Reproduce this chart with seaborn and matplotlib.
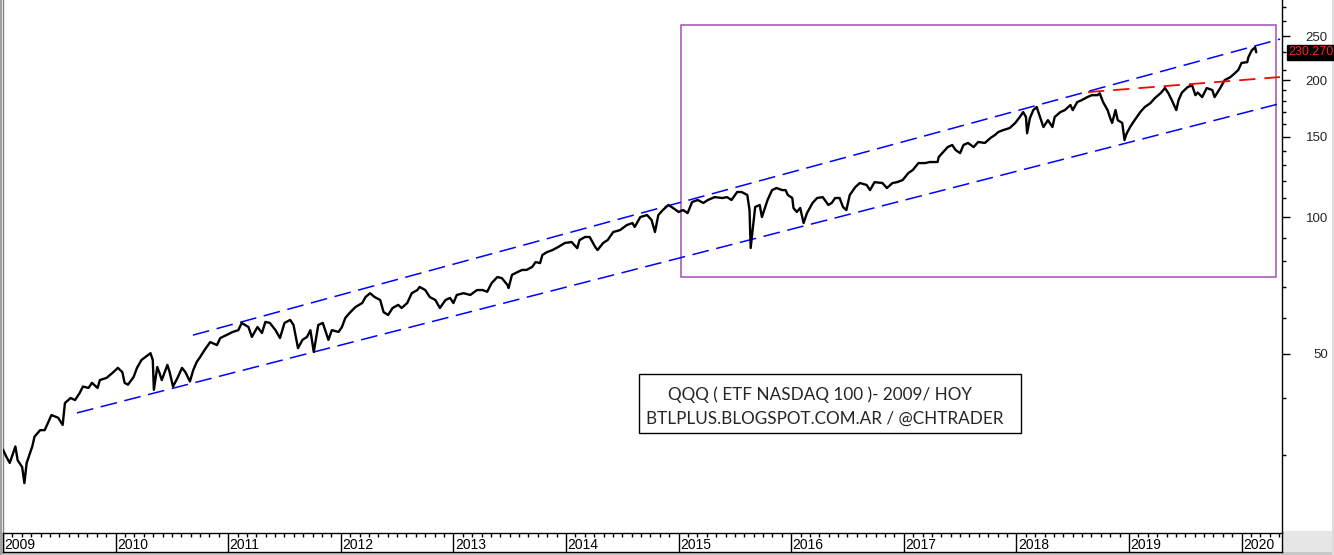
import matplotlib
matplotlib.use("Agg")
import matplotlib.pyplot as plt
import seaborn as sns
import numpy as np
import pandas as pd
from matplotlib.patches import Rectangle
from matplotlib.ticker import FixedLocator, NullFormatter, FixedFormatter

# ---------------- data ----------------
years = [
    2009.00, 2009.03, 2009.06, 2009.11, 2009.13, 2009.17, 2009.19, 2009.21, 2009.26, 2009.28,
    2009.33, 2009.37, 2009.40, 2009.43, 2009.49, 2009.53, 2009.55, 2009.60, 2009.64, 2009.68,
    2009.71, 2009.76, 2009.79, 2009.84, 2009.86, 2009.92, 2009.98,
    2010.02, 2010.06, 2010.08, 2010.11, 2010.16, 2010.19, 2010.23, 2010.31, 2010.33, 2010.34,
    2010.37, 2010.39, 2010.41, 2010.46, 2010.48, 2010.51, 2010.55, 2010.59, 2010.62, 2010.66,
    2010.69, 2010.72, 2010.75, 2010.79, 2010.84, 2010.90, 2010.93, 2010.99,
    2011.04, 2011.09, 2011.12, 2011.18, 2011.21, 2011.26, 2011.30, 2011.33, 2011.37, 2011.42,
    2011.46, 2011.50, 2011.55, 2011.58, 2011.62, 2011.66, 2011.70, 2011.73, 2011.76, 2011.80,
    2011.84, 2011.89, 2011.92, 2011.98,
    2012.01, 2012.04, 2012.08, 2012.13, 2012.19, 2012.22, 2012.26, 2012.30, 2012.35, 2012.38,
    2012.42, 2012.46, 2012.51, 2012.54, 2012.59, 2012.63, 2012.68, 2012.70, 2012.75, 2012.79,
    2012.84, 2012.88, 2012.93, 2012.97, 2013.00,
    2013.03, 2013.09, 2013.15, 2013.21, 2013.26, 2013.30, 2013.34, 2013.39, 2013.43, 2013.48,
    2013.49, 2013.52, 2013.57, 2013.61, 2013.65, 2013.70, 2013.73, 2013.77, 2013.79, 2013.83,
    2013.88, 2013.93, 2013.99,
    2014.05, 2014.10, 2014.12, 2014.17, 2014.21, 2014.26, 2014.28, 2014.33, 2014.37, 2014.42,
    2014.48, 2014.54, 2014.59, 2014.61, 2014.66, 2014.72, 2014.76, 2014.79, 2014.82, 2014.86,
    2014.91, 2014.95,
    2015.00, 2015.04, 2015.08, 2015.12, 2015.17, 2015.22, 2015.26, 2015.32, 2015.39, 2015.43,
    2015.47, 2015.52, 2015.56, 2015.61, 2015.63, 2015.64, 2015.68, 2015.72, 2015.74, 2015.79,
    2015.83, 2015.87, 2015.92, 2015.95, 2015.97,
    2016.01, 2016.02, 2016.05, 2016.08, 2016.11, 2016.14, 2016.19, 2016.23, 2016.28, 2016.33,
    2016.36, 2016.39, 2016.43, 2016.46, 2016.49, 2016.52, 2016.57, 2016.61, 2016.67, 2016.70,
    2016.74, 2016.81, 2016.85, 2016.90, 2016.94, 2016.99,
    2017.04, 2017.08, 2017.13, 2017.19, 2017.23, 2017.30, 2017.31, 2017.35, 2017.39, 2017.43,
    2017.46, 2017.50, 2017.53, 2017.57, 2017.62, 2017.66, 2017.72, 2017.77, 2017.81, 2017.84,
    2017.88, 2017.94, 2017.99,
    2018.03, 2018.06, 2018.085, 2018.095, 2018.12, 2018.15, 2018.18, 2018.21, 2018.24, 2018.28,
    2018.32, 2018.34, 2018.39, 2018.43, 2018.48, 2018.50, 2018.54, 2018.58, 2018.63, 2018.67,
    2018.72, 2018.74, 2018.77, 2018.81, 2018.83, 2018.85, 2018.88, 2018.90, 2018.94, 2018.96,
    2018.98,
    2019.01, 2019.05, 2019.10, 2019.14, 2019.19, 2019.23, 2019.28, 2019.32, 2019.35, 2019.38,
    2019.42, 2019.44, 2019.47, 2019.52, 2019.56, 2019.59, 2019.61, 2019.65, 2019.69, 2019.74,
    2019.76, 2019.81, 2019.85, 2019.90, 2019.94, 2019.97,
    2020.00, 2020.05, 2020.06, 2020.09, 2020.12, 2020.13,
]
prices = [
    30.8, 29.7, 28.8, 31.3, 29.2, 28.2, 26.0, 28.8, 31.3, 32.9,
    34.0, 34.0, 35.3, 36.7, 36.2, 34.9, 39.0, 40.0, 39.6, 41.0,
    42.4, 42.1, 43.2, 42.1, 43.8, 44.3, 45.6,
    46.6, 45.6, 43.2, 42.8, 44.5, 46.6, 48.5, 50.2, 48.5, 41.7,
    46.8, 45.4, 43.8, 47.3, 45.6, 42.4, 44.3, 46.6, 45.6, 43.5,
    46.1, 48.0, 49.2, 51.0, 53.1, 52.3, 54.2, 55.1,
    55.9, 56.4, 58.5, 57.3, 54.5, 57.3, 55.6, 58.8, 58.5, 56.4,
    54.2, 58.5, 59.4, 57.9, 51.5, 53.7, 54.5, 56.4, 50.5, 57.9,
    58.5, 53.7, 56.4, 55.9,
    57.3, 60.0, 61.6, 63.4, 64.7, 66.7, 68.0, 66.7, 65.7, 61.8,
    60.9, 63.1, 64.1, 63.1, 64.7, 68.0, 69.1, 70.2, 69.1, 66.7,
    65.7, 63.1, 65.7, 66.4, 64.7,
    67.4, 68.0, 67.4, 69.1, 69.1, 68.5, 71.6, 73.8, 73.4, 70.9,
    69.8, 74.6, 75.7, 76.5, 76.5, 77.7, 79.6, 79.2, 82.5, 83.7,
    84.6, 85.9, 87.7,
    88.1, 85.4, 89.0, 90.4, 90.4, 85.9, 84.6, 87.7, 89.0, 92.7,
    93.6, 96.0, 97.0, 95.1, 100.0, 101.0, 98.5, 92.7, 101.0, 103.6,
    106.3, 104.7,
    102.6, 103.6, 102.0, 107.9, 109.0, 107.4, 109.0, 110.6, 110.1, 110.6,
    109.0, 113.5, 113.5, 111.8, 103.6, 85.5, 105.2, 106.3, 100.0, 109.0,
    114.6, 115.8, 114.6, 114.6, 111.8,
    110.1, 104.7, 102.6, 104.7, 97.0, 102.0, 107.4, 110.1, 110.6, 106.3,
    107.4, 110.1, 110.1, 105.2, 103.6, 111.8, 116.4, 118.8, 117.6, 114.6,
    119.3, 118.8, 115.8, 118.8, 119.3, 120.6,
    124.9, 126.9, 131.4, 131.4, 132.1, 132.1, 135.5, 138.9, 142.5, 144.0,
    140.4, 138.2, 144.0, 145.5, 142.5, 146.2, 145.5, 149.2, 151.5, 153.8,
    155.2, 156.9, 161.0,
    165.9, 170.1, 165.9, 152.8, 165.0, 171.8, 174.5, 165.9, 157.7, 163.3,
    157.7, 165.9, 170.1, 171.8, 176.3, 171.8, 178.9, 180.7, 183.5, 185.3,
    185.3, 187.1, 178.9, 171.8, 165.9, 161.0, 171.8, 163.3, 161.0, 147.7,
    152.8,
    157.7, 163.3, 170.1, 174.5, 178.0, 182.6, 187.1, 192.1, 187.1, 180.7,
    171.8, 180.7, 187.8, 193.0, 194.8, 185.3, 187.8, 183.5, 192.1, 190.2,
    183.5, 192.1, 200.0, 203.0, 207.1, 210.4,
    218.2, 219.0, 224.5, 232.5, 236.1, 230.27,
]
last_price = 230.27

# trend lines (start / end points)
upper_x = [2010.687, 2020.341]
upper_y = [55.0, 246.1]
lower_x = [2009.657, 2020.341]
lower_y = [37.1, 177.6]
red_x = [2018.636, 2020.341]
red_y = [188.2, 203.1]

# highlighted zone (purple rectangle)
zone_x = [2015.021, 2020.305]
zone_y = [73.8, 264.6]

year_labels = list(range(2009, 2021))
major_yticks = [50, 100, 150, 200, 250]
minor_yticks = [30, 40, 60, 70, 80, 90, 110, 120, 130, 140, 160, 170, 180, 190,
                210, 230, 270, 290]

title_lines = ["QQQ ( ETF NASDAQ 100 )- 2009/ HOY",
               "BTLPLUS.BLOGSPOT.COM.AR / @CHTRADER"]

# ---------------- figure ----------------
sns.set_style("white")
plt.rcParams['font.family'] = ['Liberation Sans', 'DejaVu Sans']

W, H = 1334, 555
fig = plt.figure(figsize=(W / 100, H / 100), dpi=100)
fig.patch.set_facecolor("white")

ax = fig.add_axes([3 / W, 22 / H, 1279 / W, 533 / H])
ax2 = fig.add_axes([3 / W, 3 / H, 1279 / W, 19 / H])

xmin, xmax = 2009.0, 2009.0 + 1279 / 112.6
ymin, ymax = 20.2, 300.0

df = pd.DataFrame({"year": years, "price": prices})
sns.lineplot(data=df, x="year", y="price", ax=ax, color="black", lw=1.7,
             sort=False, estimator=None, zorder=5)

ax.plot(upper_x, upper_y, color="#0000FF", lw=1.1, dashes=(11, 5), zorder=4)
ax.plot(lower_x, lower_y, color="#0000FF", lw=1.1, dashes=(11, 5), zorder=4)
ax.plot(red_x, red_y, color="#FF0000", lw=1.3, dashes=(9, 5), zorder=6)

ax.add_patch(Rectangle((zone_x[0], zone_y[0]), zone_x[1] - zone_x[0], zone_y[1] - zone_y[0],
                       fill=False, edgecolor="#A050B0", lw=1.1, zorder=3))

ax.set_yscale("log")
ax.set_xlim(xmin, xmax)
ax.set_ylim(ymin, ymax)
ax.set_xlabel("")
ax.set_ylabel("")
ax.set_xticks([])

ax.yaxis.tick_right()
ax.yaxis.set_major_locator(FixedLocator(major_yticks))
ax.yaxis.set_major_formatter(FixedFormatter([str(v) for v in major_yticks]))
ax.yaxis.set_minor_locator(FixedLocator(minor_yticks))
ax.yaxis.set_minor_formatter(NullFormatter())
ax.tick_params(axis="y", which="major", right=True, left=False, direction="out",
               length=6, width=1, color="black", labelsize=9.5, pad=27)
ax.tick_params(axis="y", which="minor", right=True, left=False, direction="out",
               length=3, width=1, color="black")
for lbl in ax.get_yticklabels():
    lbl.set_horizontalalignment("right")

for s in ["top", "bottom"]:
    ax.spines[s].set_visible(False)
ax.spines["right"].set_color("black")
ax.spines["right"].set_linewidth(1)
ax.spines["left"].set_color("#808080")
ax.spines["left"].set_linewidth(1)

# last price label
ax.annotate(f"{last_price:.3f}", xy=(1, last_price), xycoords=("axes fraction", "data"),
            xytext=(4.5, 0), textcoords="offset points", ha="left", va="center",
            color="#FF2020", fontsize=9, zorder=10,
            bbox=dict(boxstyle="square,pad=0.12", fc="black", ec="black"))

# text box
bx0, bx1 = 0.4973, 0.7959
by0, by1 = 0.1876, 0.2983
ax.add_patch(Rectangle((bx0, by0), bx1 - bx0, by1 - by0, transform=ax.transAxes,
                       facecolor="white", edgecolor="black", lw=1, zorder=7))
ax.text(0.6388, 0.2589, title_lines[0], transform=ax.transAxes, ha="center", va="center",
        fontsize=12.3, family=["Lato", "DejaVu Sans"], zorder=8)
ax.text(0.6427, 0.2139, title_lines[1], transform=ax.transAxes, ha="center", va="center",
        fontsize=12.3, family=["Lato", "DejaVu Sans"], zorder=8)

# ---------------- date band ----------------
ax2.set_xlim(xmin, xmax)
ax2.set_ylim(0, 1)
ax2.set_facecolor("white")
ax2.set_yticks([])
ax2.xaxis.tick_top()
ax2.set_xticks(year_labels)
ax2.set_xticklabels([])
months = [y + m / 12 for y in year_labels for m in range(1, 12) if y + m / 12 < xmax]
ax2.set_xticks(months, minor=True)
ax2.tick_params(axis="x", which="major", direction="in", length=14, width=1,
                color="black", top=True, bottom=False)
ax2.tick_params(axis="x", which="minor", direction="in", length=3, width=1,
                color="black", top=True, bottom=False)
for y in year_labels:
    ax2.text(y + 0.012, 0.38, str(y), ha="left", va="center", fontsize=10, color="black")
for s in ax2.spines.values():
    s.set_color("black")
    s.set_linewidth(1)

# grey frame parts
fig.patches.append(Rectangle((1282 / W, 0), 52 / W, 24 / H, transform=fig.transFigure,
                             facecolor="#e6e6e6", edgecolor="none", zorder=-1))
fig.patches.append(Rectangle((0, 0), 1, 3 / H, transform=fig.transFigure,
                             facecolor="#c8c8c8", edgecolor="none", zorder=-1))
fig.patches.append(Rectangle((0, 0), 2 / W, 1, transform=fig.transFigure,
                             facecolor="#a0a0a0", edgecolor="none", zorder=-1))
fig.patches.append(Rectangle((1332 / W, 0), 2 / W, 1, transform=fig.transFigure,
                             facecolor="#dcdcdc", edgecolor="none", zorder=-1))

fig.savefig("out.png", dpi=100, facecolor="white")
